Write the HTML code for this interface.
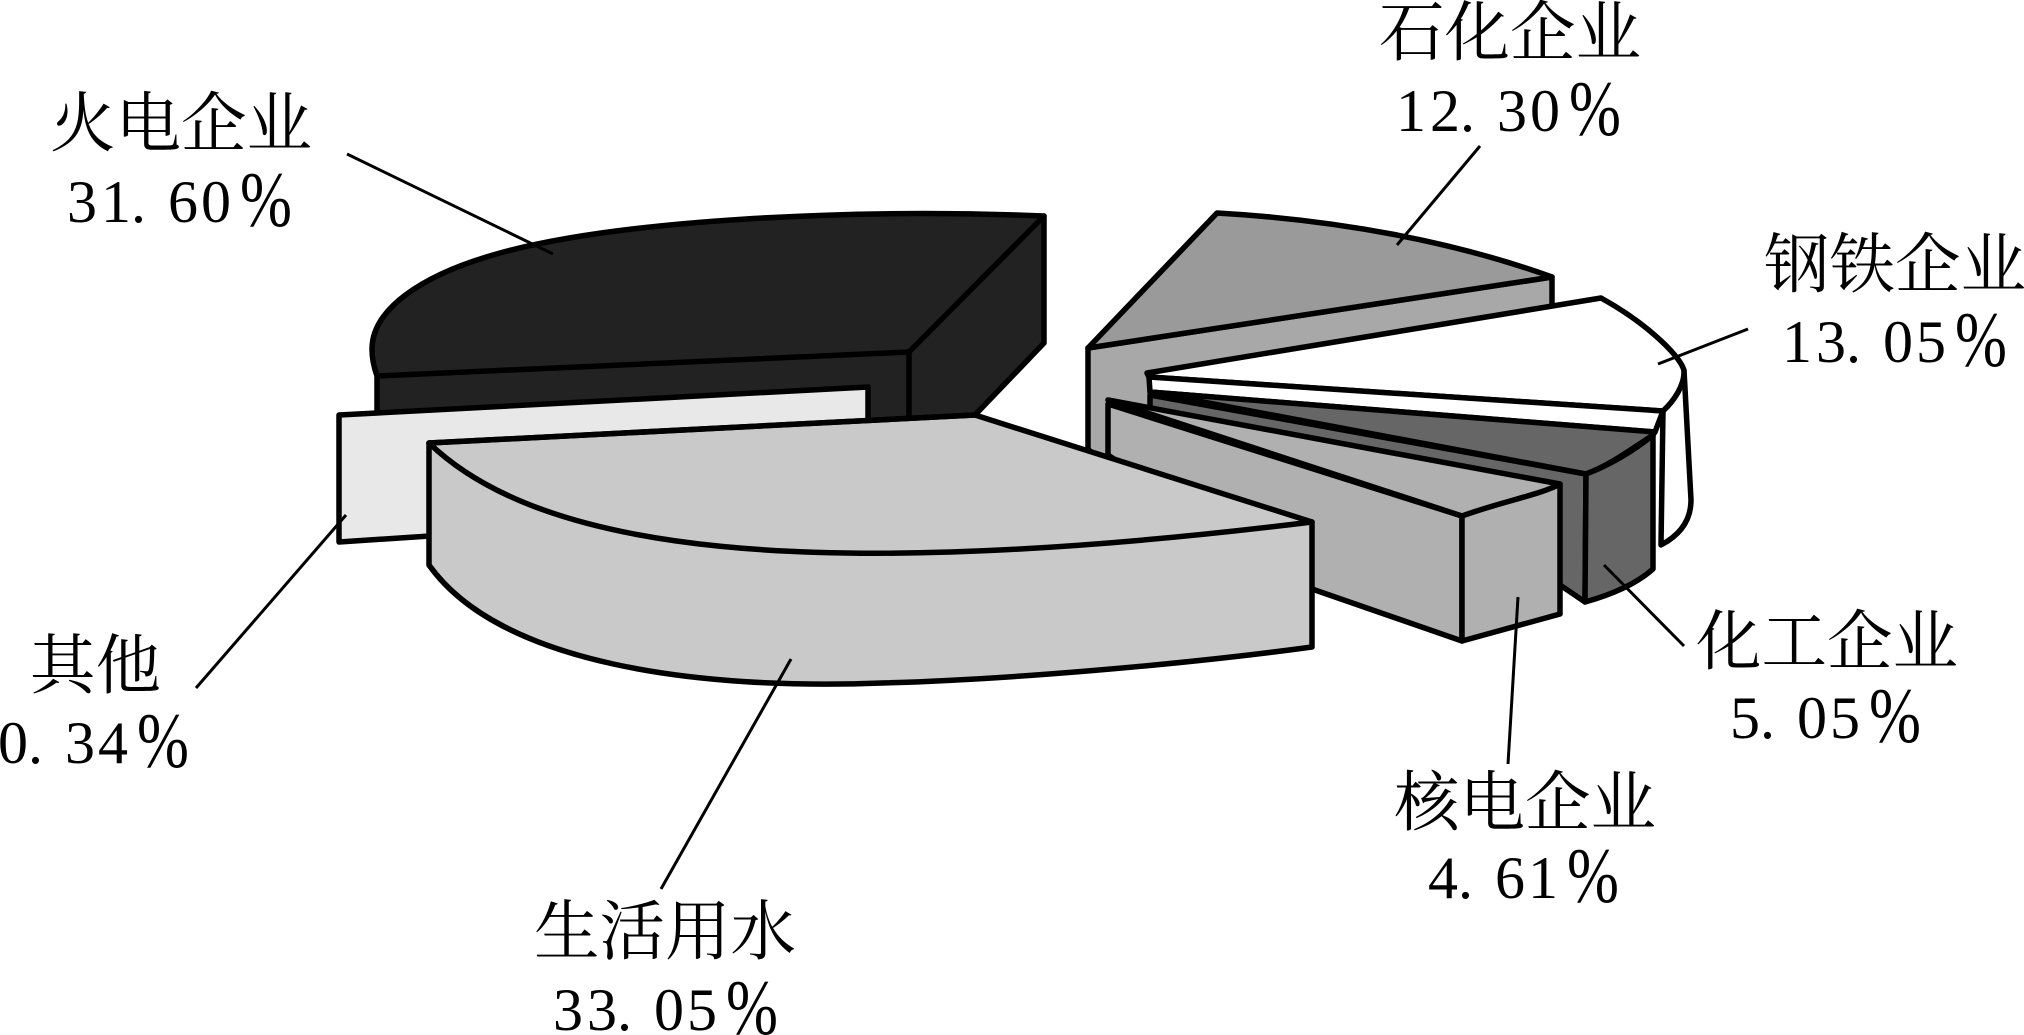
<!DOCTYPE html>
<html>
<head>
<meta charset="utf-8">
<style>
html,body{margin:0;padding:0;background:#fff;width:2024px;height:1035px;overflow:hidden}
svg{display:block}
.c{font-family:"Liberation Serif","Noto Serif CJK SC",serif;font-size:65.5px;fill:#000}
.d{font-family:"Liberation Serif",serif;font-size:60px;fill:#000}
.p{font-family:"Liberation Serif",serif;font-size:78px;fill:#000}
.s{stroke:#000;stroke-width:5.5;stroke-linejoin:round;stroke-linecap:round}
.l{stroke:#000;stroke-width:3;fill:none}
</style>
</head>
<body>
<svg width="2024" height="1035" viewBox="0 0 2024 1035" xmlns="http://www.w3.org/2000/svg">
<!-- black slice -->
<path class="s" fill="#222" d="M377 376 L377 430 L909 430 L975 415 L1044 343 L1044 216 C850 208 620 220 500 253 C420 275 372 310 372 349 Q372 362 377 376 Z"/>
<path class="s" fill="none" d="M377 376 L909 352 L1044 216 M909 352 L909 425"/>
<!-- other slice -->
<path class="s" fill="#e8e8e8" d="M339 415 L868 387 L868 430 L430 536 L339 542 Z"/>
<!-- petrochem slice -->
<path class="s" fill="#a8a8a8" d="M1088 348 L1552 277 L1552 330 L1150 420 L1108 470 L1088 449 Z"/>
<path class="s" fill="#9a9a9a" d="M1217 213 C1340 220 1455 242 1552 277 L1088 348 Z"/>
<!-- white slice -->
<path class="s" fill="#fff" d="M1663 411 L1661 545 C1680 535 1691 520 1691 500 L1684 370 Z"/>
<path class="s" fill="#fff" d="M1147 373 L1601 298 C1650 325 1684 360 1684 372 C1684 385 1675 400 1663 411 L1149 377 Z"/>
<path class="s" fill="#fff" d="M1149 377 L1663 411 L1655 432 L1150 392 Z"/>
<!-- chem slice -->
<path class="s" fill="#666" d="M1150 395 L1586 474 L1585 602 L1560 585 L1150 420 Z"/>
<path class="s" fill="#666" d="M1150 392 L1655 432 L1653 435 C1630 450 1610 465 1586 474 Z"/>
<path class="s" fill="#666" d="M1586 474 C1610 465 1635 450 1653 435 L1653 569 C1635 585 1610 595 1585 602 Z"/>
<!-- nuclear slice -->
<path class="s" fill="#b0b0b0" d="M1108 404 L1462 516 L1462 641 L1312 589 L1108 455 Z"/>
<path class="s" fill="#b0b0b0" d="M1462 516 C1500 500 1540 495 1560 484 L1560 614 L1462 641 Z"/>
<path class="s" fill="#b0b0b0" d="M1108 400 L1560 484 C1540 495 1500 502 1462 516 Z"/>
<!-- water slice -->
<path class="s" fill="#c9c9c9" d="M429 443 L429 565 C500 665 700 690 882 683 C1000 680 1180 665 1312 647 L1312 522 L975 415 Z"/>
<path class="s" fill="none" d="M429 443 C540 550 800 585 1312 522"/>
<path class="s" fill="none" d="M429 443 L975 415"/>
<!-- leader lines -->
<line class="l" x1="347" y1="154" x2="553" y2="254"/>
<line class="l" x1="196" y1="688" x2="346" y2="515"/>
<line class="l" x1="661" y1="889" x2="791" y2="659"/>
<line class="l" x1="1480" y1="146" x2="1397" y2="245"/>
<line class="l" x1="1748" y1="329" x2="1658" y2="364"/>
<line class="l" x1="1684" y1="646" x2="1604" y2="565"/>
<line class="l" x1="1518" y1="597" x2="1508" y2="764"/>
<!-- labels -->
<text class="c" x="50" y="146">火电企业</text>
<text class="d" x="67 101 131 168 201" y="222">31.60</text>
<text class="p" transform="translate(240 226) scale(.8 1)">%</text>
<text class="c" x="1379" y="55">石化企业</text>
<text class="d" x="1396 1430 1460 1497 1530" y="131">12.30</text>
<text class="p" transform="translate(1569 135) scale(.8 1)">%</text>
<text class="c" x="1764" y="287">钢铁企业</text>
<text class="d" x="1782 1816 1846 1883 1916" y="362">13.05</text>
<text class="p" transform="translate(1955 366) scale(.8 1)">%</text>
<text class="c" x="1696" y="664">化工企业</text>
<text class="d" x="1730 1760 1797 1830" y="738">5.05</text>
<text class="p" transform="translate(1869 742) scale(.8 1)">%</text>
<text class="c" x="1394" y="825">核电企业</text>
<text class="d" x="1428 1458 1495 1528" y="898">4.61</text>
<text class="p" transform="translate(1567 902) scale(.8 1)">%</text>
<text class="c" x="30" y="688">其他</text>
<text class="d" x="-2 28 65 98" y="763">0.34</text>
<text class="p" transform="translate(137 767) scale(.8 1)">%</text>
<text class="c" x="534" y="954">生活用水</text>
<text class="d" x="553 587 617 654 687" y="1030">33.05</text>
<text class="p" transform="translate(726 1034) scale(.8 1)">%</text>
</svg>
</body>
</html>
